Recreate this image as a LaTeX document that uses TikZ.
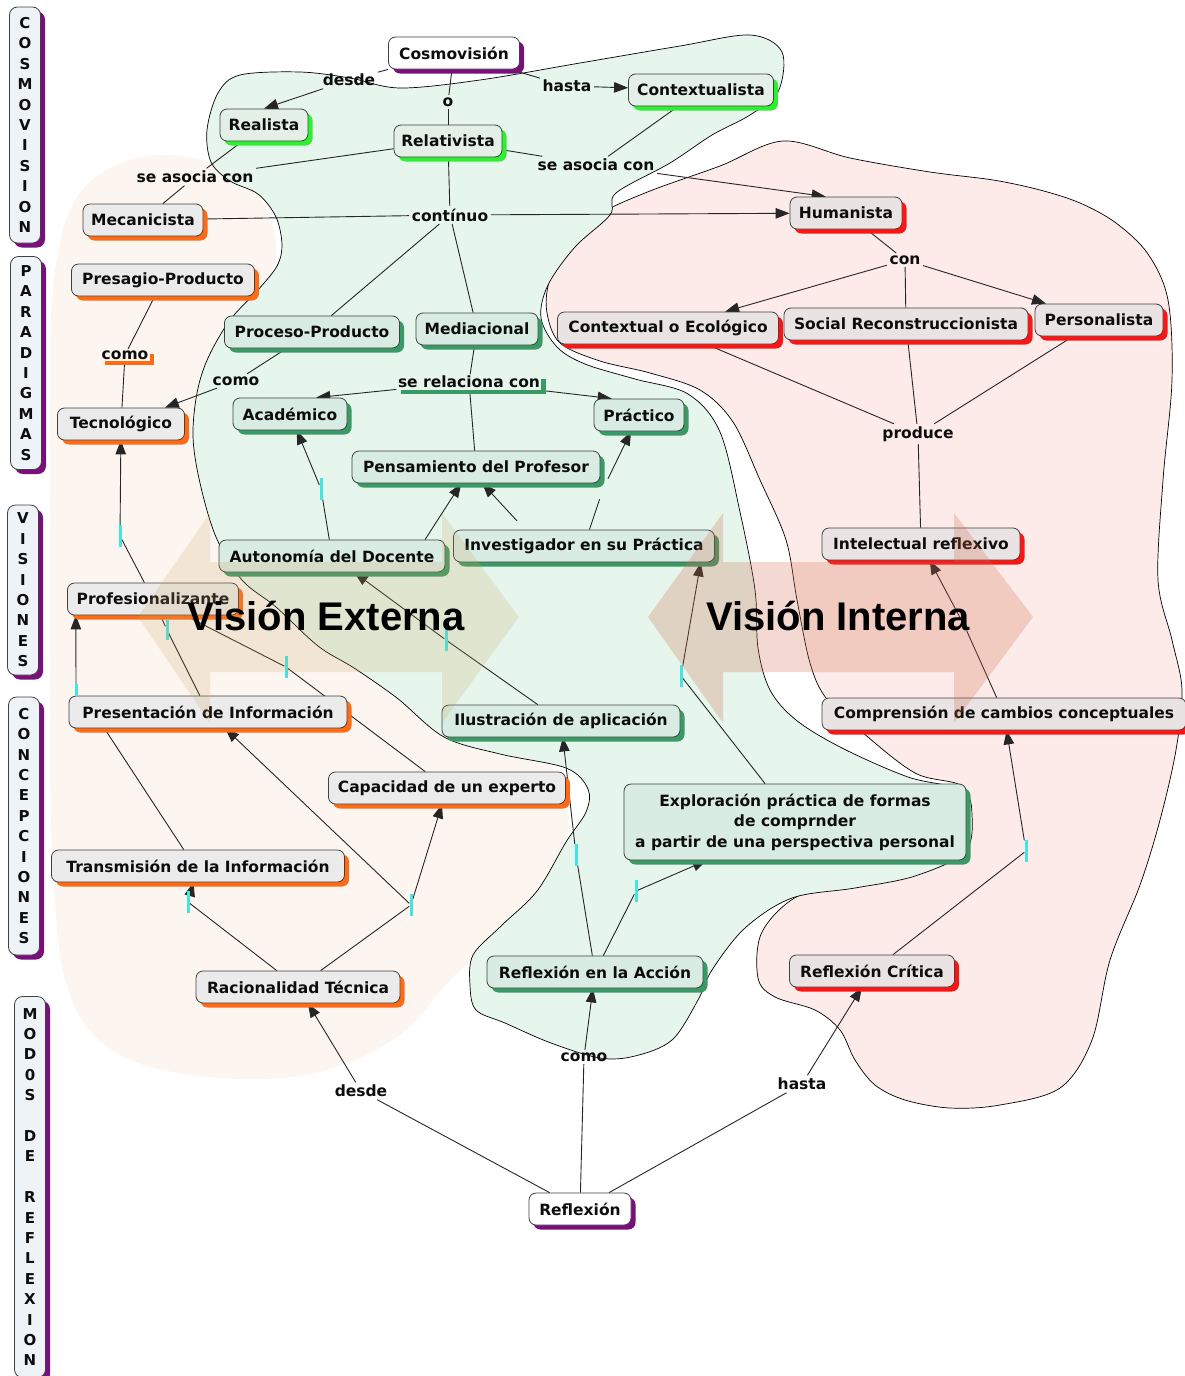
\documentclass[tikz,border=0pt]{standalone}
\usepackage{fontspec}
\setmainfont{DejaVu Sans}
\newfontfamily\arialf{Liberation Sans}
\usetikzlibrary{arrows.meta,shadows}
\newcommand\nf{\fontsize{15.5}{20.5}\selectfont\bfseries}
\newcommand\sbf{\fontsize{15}{20.4}\selectfont\bfseries}
\newcommand\vf{\arialf\fontsize{40}{44}\selectfont\bfseries}
\definecolor{gfill}{HTML}{D8ECE3}
\definecolor{gshade}{HTML}{3A9A66}
\definecolor{lgfill}{HTML}{E4EFE8}
\definecolor{lgshade}{HTML}{2EF02E}
\definecolor{ofill}{HTML}{EBEBEB}
\definecolor{oshade}{HTML}{FF6A14}
\definecolor{rfill}{HTML}{EAE3E3}
\definecolor{rshade}{HTML}{FF1414}
\definecolor{pshade}{HTML}{7A0E7C}
\definecolor{sfill}{HTML}{EEF3F7}
\definecolor{cyanc}{HTML}{44E4E4}
\definecolor{bgg}{HTML}{E6F6EC}
\definecolor{bgr}{HTML}{FCEBE8}
\definecolor{bgo}{HTML}{FDF6F0}
\definecolor{extc}{RGB}{202,162,95}
\definecolor{intc}{RGB}{210,105,75}
\pgfdeclarelayer{regions}
\pgfdeclarelayer{edges}
\pgfdeclarelayer{top}
\pgfsetlayers{regions,edges,main,top}
\tikzset{
  box/.style={draw=black!75, line width=0.8pt, rounded corners=7pt, font=\nf, text=black!95, inner sep=0pt, minimum height=32pt, align=center},
  gshadow/.style={general shadow={fill=#1, shadow xshift=4.5pt, shadow yshift=-4.5pt}},
  grn/.style={box, fill=gfill, gshadow=gshade},
  lgrn/.style={box, fill=lgfill, gshadow=lgshade},
  org/.style={box, fill=ofill, gshadow=oshade},
  rbox/.style={box, fill=rfill, gshadow=rshade},
  ppl/.style={box, fill=white, gshadow=pshade},
  lp/.style={font=\nf, inner sep=2.5pt, text=black!95},
  cy/.style={fill=cyanc, minimum width=3pt, minimum height=22pt, inner sep=0pt},
  ln/.style={draw=black!85, line width=0.9pt},
  ar/.style={ln, -{Triangle[length=14pt,width=10.5pt]}},
  side/.style={draw=black!75, line width=0.8pt, rounded corners=8pt, fill=sfill, gshadow=pshade, font=\sbf, inner sep=0pt, minimum width=31pt, align=center, text=black!95},
}
\begin{document}
\begin{tikzpicture}[x=1pt,y=-1pt]
\useasboundingbox (0,0) rectangle (1185,1376);

% ---------- side bars ----------
\node[side, minimum height=236pt] (sb1) at (25,125) {C\\O\\S\\M\\O\\V\\I\\S\\I\\O\\N};
\node[side, minimum height=213pt] (sb2) at (26,363) {P\\A\\R\\A\\D\\I\\G\\M\\A\\S};
\node[side, minimum height=170pt] (sb3) at (23,590) {V\\I\\S\\I\\O\\N\\E\\S};
\node[side, minimum height=258pt] (sb4) at (24,826) {C\\O\\N\\C\\E\\P\\C\\I\\O\\N\\E\\S};
\node[side, minimum height=381pt] (sb5) at (30,1187) {M\\O\\D\\0\\S\\\mbox{}\\D\\E\\\mbox{}\\R\\E\\F\\L\\E\\X\\I\\O\\N};

% ---------- concepts ----------
\node[ppl, minimum width=131pt] (cosmo) at (454,53) {Cosmovisión};
\node[lgrn, minimum width=88pt] (realista) at (264,125) {Realista};
\node[lgrn, minimum width=108pt] (relativista) at (448,141) {Relativista};
\node[lgrn, minimum width=145pt] (contextualista) at (701,90) {Contextualista};
\node[org, minimum width=120pt] (mecanicista) at (143,220) {Mecanicista};
\node[rbox, minimum width=112pt] (humanista) at (846,213) {Humanista};
\node[org, minimum width=183pt] (presagio) at (163,280) {Presagio-Producto};
\node[grn, minimum width=175pt] (proceso) at (312,332) {Proceso-Producto};
\node[grn, minimum width=122pt] (mediacional) at (477,329) {Mediacional};
\node[rbox, minimum width=221pt] (ecologico) at (668,328) {Contextual o Ecológico};
\node[rbox, minimum width=244pt] (social) at (906,324) {Social Reconstruccionista};
\node[rbox, minimum width=128pt] (personalista) at (1099,320) {Personalista};
\node[org, minimum width=127pt] (tecnologico) at (121,424) {Tecnológico};
\node[grn, minimum width=114pt] (academico) at (290,414) {Académico};
\node[grn, minimum width=90pt] (practico) at (639,415) {Práctico};
\node[grn, minimum width=248pt] (pensamiento) at (476,467) {Pensamiento del Profesor};
\node[grn, minimum width=226pt] (autonomia) at (332,556) {Autonomía del Docente};
\node[grn, minimum width=261pt] (investigador) at (584,546) {Investigador en su Práctica};
\node[rbox, minimum width=198pt] (intelectual) at (921,544) {Intelectual reflexivo};
\node[org, minimum width=171pt] (profesional) at (153,599) {Profesionalizante};
\node[org, minimum width=278pt] (presentacion) at (208,712) {Presentación de Información};
\node[grn, minimum width=238pt] (ilustracion) at (561,721) {Ilustración de aplicación};
\node[rbox, minimum width=364pt] (comprension) at (1004,714) {Comprensión de cambios conceptuales};
\node[org, minimum width=237pt] (capacidad) at (447,788) {Capacidad de un experto};
\node[grn, minimum width=342pt, minimum height=76pt] (exploracion) at (795,822) {Exploración práctica de formas\\de comprnder\\a partir de una perspectiva personal};
\node[org, minimum width=293pt] (transmision) at (198,866) {Transmisión de la Información};
\node[org, minimum width=204pt] (racionalidad) at (298,987) {Racionalidad Técnica};
\node[grn, minimum width=216pt] (raccion) at (595,972) {Reflexión en la Acción};
\node[rbox, minimum width=165pt] (rcritica) at (872,971) {Reflexión Crítica};
\node[ppl, minimum width=102pt] (reflexion) at (580,1209) {Reflexión};

% ---------- linking phrases ----------
\node[lp] (ldesdeA) at (349,80) {desde};
\node[lp] (lo) at (448,102) {o};
\node[lp] (lhastaA) at (567,86) {hasta};
\node[lp] (lasocA) at (195,177) {se asocia con};
\node[lp] (lasocB) at (596,165) {se asocia con};
\node[lp] (lcont) at (450,215) {contínuo};
\node[lp, fill=bgo, gshadow=oshade, inner sep=1.5pt] (lcomoA) at (125,355) {como};
\node[lp] (lcomoB) at (236,381) {como};
\node[lp, fill=bgg, gshadow=gshade, inner sep=1.5pt] (lrel) at (469,382) {se relaciona con};
\node[lp] (lcon) at (905,260) {con};
\node[lp] (lprod) at (918,434) {produce};
\node[lp] (ldesdeB) at (361,1091) {desde};
\node[lp] (lcomoC) at (584,1057) {como};
\node[lp] (lhastaB) at (802,1084) {hasta};

% ---------- unnamed links (cyan marks) ----------
\node[cy] (cprof) at (120,536) {};
\node[cy] (cauto) at (321,489) {};
\node[cy] (cilus) at (446,640) {};
\node[cy, minimum height=12pt] (cpres) at (76,690) {};
\node[cy, minimum height=20pt] (cprofB) at (167,630) {};
\node[cy] (cprofC) at (286,667) {};
\node[cy] (crtA) at (188,902) {};
\node[cy] (crtB) at (411,905) {};
\node[cy] (craA) at (576,855) {};
\node[cy] (craB) at (636,891) {};
\node[cy] (cexp) at (681,676) {};
\node[cy] (crc) at (1026,851) {};
\node[cy, minimum height=7pt] (ccomp) at (965,627) {};
\node[inner sep=0pt, minimum size=20pt] (cinvB) at (603,489) {};
\node[inner sep=0pt, minimum size=4pt] (cinvA) at (519,523) {};

% ---------- background regions ----------
\begin{pgfonlayer}{regions}
\fill[bgo] plot[smooth cycle, tension=0.6] coordinates {(52,300) (70,210) (110,168) (165,155) (225,168) (262,200) (276,250) (262,300) (240,340) (300,500) (480,700) (560,780) (562,860) (520,915) (455,975) (400,1035) (320,1072) (220,1078) (120,1055) (68,990) (52,850) (50,650) (50,450)};
\filldraw[fill=bgr, draw=black, line width=0.7pt] plot[smooth cycle, tension=0.55] coordinates {(783,141) (850,158) (930,172) (993,180) (1040,190) (1080,203) (1116,223) (1148,254) (1168,300) (1172,380) (1163,480) (1158,580) (1172,640) (1182,690) (1176,750) (1160,820) (1140,885) (1110,960) (1092,1040) (1060,1088) (1000,1105) (950,1108) (905,1100) (875,1085) (855,1060) (840,1030) (815,1010) (775,997) (758,978) (762,932) (800,895) (868,881) (938,867) (962,848) (971,815) (962,786) (915,773) (862,732) (826,698) (810,663) (797,600) (786,540) (760,480) (733,422) (700,390) (650,373) (600,361) (560,343) (547,313) (549,282) (566,245) (600,214) (650,191) (720,166)};
\filldraw[fill=bgg, draw=black, line width=0.7pt] plot[smooth cycle, tension=0.55] coordinates {(218,93) (240,75) (300,72) (350,78) (400,88) (480,80) (580,63) (680,46) (750,35) (782,52) (778,92) (750,115) (712,135) (670,163) (616,193) (610,215) (575,247) (548,285) (541,318) (557,347) (585,364) (635,379) (688,394) (720,432) (740,512) (755,590) (758,648) (770,690) (796,720) (842,748) (908,777) (962,790) (972,815) (965,852) (915,876) (855,888) (792,898) (745,928) (712,970) (698,1000) (672,1040) (635,1056) (600,1058) (551,1043) (505,1023) (476,1010) (470,985) (473,955) (500,927) (537,891) (566,842) (586,812) (588,789) (566,768) (500,754) (444,737) (397,698) (354,668) (318,646) (276,607) (242,580) (216,537) (200,483) (193,437) (197,393) (208,358) (230,320) (258,290) (277,266) (282,245) (276,217) (258,194) (230,181) (211,162) (207,130)};
\end{pgfonlayer}

% ---------- connectors ----------
\begin{pgfonlayer}{edges}
\draw[ln] (cosmo.south west) -- (ldesdeA);
\draw[ar] (ldesdeA) -- (realista.north);
\draw[ln] (cosmo) -- (lo);
\draw[ln] (lo) -- (relativista);
\draw[ln] (cosmo) -- (lhastaA);
\draw[ar] (lhastaA) -- (contextualista);
\draw[ln] (realista) -- (lasocA);
\draw[ln] (relativista) -- (lasocA);
\draw[ln] (lasocA) -- (mecanicista);
\draw[ln] (relativista) -- (lasocB);
\draw[ln] (contextualista) -- (lasocB);
\draw[ar] (lasocB) -- (humanista.141);
\draw[ln] (relativista) -- (lcont);
\draw[ln] (mecanicista) -- (lcont);
\draw[ar] (lcont) -- (humanista);
\draw[ln] (lcont) -- (proceso);
\draw[ln] (lcont) -- (mediacional);
\draw[ln] (presagio) -- (lcomoA);
\draw[ln] (lcomoA) -- (tecnologico);
\draw[ln] (proceso) -- (lcomoB);
\draw[ar] (lcomoB) -- (tecnologico);
\draw[ln] (mediacional) -- (lrel);
\draw[ar] (lrel) -- (academico.32);
\draw[ar] (lrel) -- (practico.149);
\draw[ln] (lrel) -- (pensamiento);
\draw[ln] (humanista) -- (lcon);
\draw[ar] (lcon) -- (ecologico);
\draw[ln] (lcon) -- (social);
\draw[ar] (lcon) -- (personalista);
\draw[ln] (ecologico) -- (lprod);
\draw[ln] (social) -- (lprod);
\draw[ln] (personalista) -- (lprod);
\draw[ln] (lprod) -- (intelectual);
\draw[ln] (profesional) -- (cprof);
\draw[ar] (cprof) -- (tecnologico);
\draw[ln] (autonomia) -- (cauto);
\draw[ar] (cauto) -- (academico);
\draw[ar] (autonomia.10) -- (pensamiento.228);
\draw[ar] (cinvA) -- (pensamiento.291);
\draw[ln] (investigador) -- (cinvB);
\draw[ar] (cinvB) -- (practico);
\draw[ln] (ilustracion) -- (cilus);
\draw[ar] (cilus) -- (autonomia);
\draw[ar] (cpres) -- (profesional.192);
\draw[ln] (profesional) -- (cprofB);
\draw[ln] (cprofB) -- (presentacion);
\draw[ln] (profesional) -- (cprofC);
\draw[ln] (cprofC) -- (capacidad);
\draw[ln] (presentacion.189) -- (transmision.131);
\draw[ln] (racionalidad) -- (crtA);
\draw[ar] (crtA) -- (transmision);
\draw[ln] (racionalidad) -- (crtB);
\draw[ar] (crtB) -- (capacidad);
\draw[ar] (crtB) -- (presentacion);
\draw[ln] (raccion) -- (craA);
\draw[ar] (craA) -- (ilustracion);
\draw[ln] (raccion) -- (craB);
\draw[ar] (craB) -- (exploracion);
\draw[ln] (exploracion) -- (cexp);
\draw[ar] (cexp) -- (investigador.352);
\draw[ln] (rcritica) -- (crc);
\draw[ar] (crc) -- (comprension);
\draw[ln] (comprension) -- (ccomp);
\draw[ar] (ccomp) -- (intelectual);
\draw[ln] (reflexion) -- (ldesdeB);
\draw[ar] (ldesdeB) -- (racionalidad);
\draw[ln] (reflexion) -- (lcomoC);
\draw[ar] (lcomoC) -- (raccion);
\draw[ln] (reflexion) -- (lhastaB);
\draw[ar] (lhastaB) -- (rcritica);
\end{pgfonlayer}

% ---------- vision arrows ----------
\begin{pgfonlayer}{top}
\fill[extc, opacity=0.2] (138,617) -- (210,513) -- (210,562) -- (442,562) -- (442,513) -- (519,617) -- (442,723) -- (442,672) -- (210,672) -- (210,723) -- cycle;
\fill[intc, opacity=0.25] (648,617) -- (723,513) -- (723,562) -- (954,562) -- (954,513) -- (1033,617) -- (954,723) -- (954,672) -- (723,672) -- (723,723) -- cycle;
\node[font=\vf] (vext) at (326,616) {Visión Externa};
\node[font=\vf] (vint) at (838,616) {Visión Interna};
\end{pgfonlayer}
\end{tikzpicture}
\end{document}
